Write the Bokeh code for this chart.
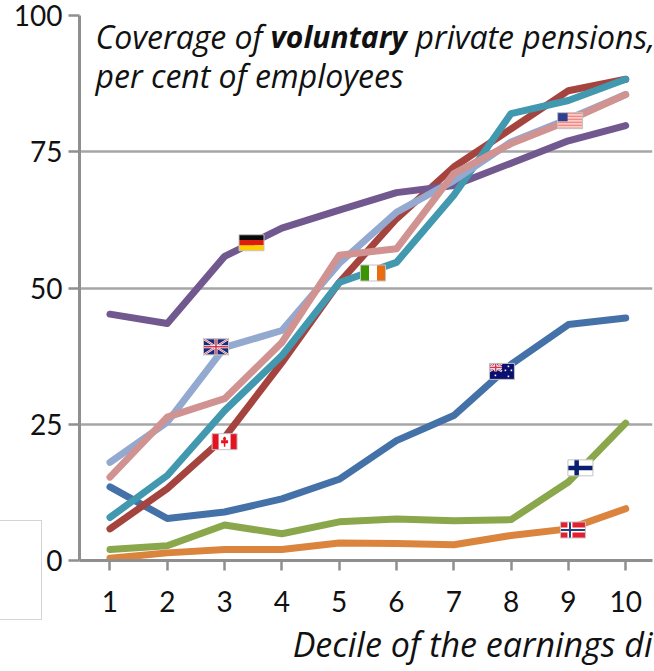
from bokeh.plotting import figure
from bokeh.models import Label, FixedTicker, Title
from bokeh.embed import file_html
from bokeh.resources import INLINE

deciles = [1, 2, 3, 4, 5, 6, 7, 8, 9, 10]
australia = [13.5, 7.7, 8.9, 11.3, 14.9, 22.0, 26.6, 36.0, 43.3, 44.5]
canada = [5.8, 13.2, 22.6, 36.3, 51.0, 62.7, 72.2, 79.2, 86.2, 88.3]
finland = [2.0, 2.7, 6.5, 4.9, 7.1, 7.6, 7.3, 7.5, 14.4, 25.2]
germany = [45.2, 43.5, 55.8, 61.0, 64.3, 67.5, 68.8, 72.9, 77.0, 79.8]
ireland = [7.9, 15.6, 27.5, 37.6, 51.0, 54.7, 67.0, 82.0, 84.4, 88.3]
norway = [0.4, 1.4, 2.0, 2.0, 3.2, 3.1, 2.9, 4.6, 5.8, 9.5]
uk = [18.0, 25.4, 39.1, 42.2, 54.5, 63.9, 69.7, 76.8, 81.0, 85.5]
usa = [15.3, 26.3, 29.7, 40.0, 56.0, 57.2, 71.0, 76.5, 80.7, 85.5]

series = [
    (australia, "#4472A8"), (canada, "#A5433F"), (finland, "#8AA84B"), (germany, "#71588F"),
    (ireland, "#4198AF"), (norway, "#DB843D"), (uk, "#93A9CF"), (usa, "#D19392"),
]
y_ticks = [0, 25, 50, 75, 100]

# flag anchor positions in chart units
flag_pos = {
    "de": (3.47, 58.3), "uk": (2.85, 39.2), "ca": (3.00, 21.8), "ie": (5.59, 52.75),
    "us": (9.03, 80.7), "au": (7.84, 34.7), "fi": (9.21, 17.0), "no": (9.08, 5.6),
}

W, H = 654, 671
LEFT, TOP, RIGHT = 79, 15, 652
ZERO = 560
p = figure(width=W, height=H, output_backend="svg", toolbar_location=None,
           x_range=(0.468, 10.468), y_range=(0, 100),
           min_border_left=LEFT, min_border_right=W - RIGHT, min_border_top=TOP, min_border_bottom=H - ZERO,
           background_fill_color="white", border_fill_color="white", outline_line_color=None)

# faint box from the source slide, lower-left corner
p.stylesheets = [":host::after{content:'';position:absolute;left:-5px;top:520px;width:45px;height:98px;"
                 "border:1px solid #D4D4D4;pointer-events:none}"]

p.xgrid.visible = False
p.ygrid.ticker = FixedTicker(ticks=y_ticks)
p.ygrid.grid_line_color = "#A6A6A6"
p.ygrid.grid_line_width = 2.5

ax = p.xaxis[0]
ax.ticker = FixedTicker(ticks=deciles)
ay = p.yaxis[0]
ay.ticker = FixedTicker(ticks=y_ticks)
for a in (ax, ay):
    a.axis_line_color = "#8F8F8F"
    a.axis_line_width = 3
    a.major_tick_line_color = "#8F8F8F"
    a.major_tick_line_width = 2.5
    a.major_tick_in = 0
    a.minor_tick_line_color = None
    a.major_label_text_font = "Lato"
    a.major_label_text_font_size = "28px"
    a.major_label_text_color = "#111111"
ax.major_tick_out = 10
ax.major_label_standoff = 20
ay.major_tick_out = 11
ay.major_label_standoff = 6

p.add_layout(Title(text="Decile of the earnings di", align="right", text_font="Open Sans",
                   text_font_style="italic", text_font_size="34px", text_color="#111111",
                   standoff=9, offset=0), "below")

for vals, col in series:
    p.line(deciles, vals, line_color=col, line_width=7, line_cap="round", line_join="round")

# flags: drawn from local pixel boxes around each anchor
PX = 10.0 / (RIGHT - LEFT)
PY = 100.0 / (ZERO - TOP)
FW, FH = 25, 16


def box(key, u0, v0, u1, v1, color):
    cx, cy = flag_pos[key]
    x0 = cx + (u0 - FW / 2) * PX
    x1 = cx + (u1 - FW / 2) * PX
    y1 = cy - (v0 - FH / 2) * PY
    y0 = cy - (v1 - FH / 2) * PY
    p.quad(left=[x0], right=[x1], bottom=[y0], top=[y1], fill_color=color, line_color=None)


def seg(key, u0, v0, u1, v1, color, w):
    cx, cy = flag_pos[key]
    p.line([cx + (u0 - FW / 2) * PX, cx + (u1 - FW / 2) * PX],
           [cy - (v0 - FH / 2) * PY, cy - (v1 - FH / 2) * PY], line_color=color, line_width=w)


def frame(key):
    cx, cy = flag_pos[key]
    p.quad(left=[cx - FW / 2 * PX], right=[cx + FW / 2 * PX], bottom=[cy - FH / 2 * PY], top=[cy + FH / 2 * PY],
           fill_color=None, line_color="#C4C4C4", line_width=1)


def union(key, u1, v1):
    box(key, 0, 0, u1, v1, "#1A2A78")
    seg(key, 0, 0, u1, v1, "white", 2.2)
    seg(key, 0, v1, u1, 0, "white", 2.2)
    seg(key, 0, 0, u1, v1, "#D8344A", 0.8)
    seg(key, 0, v1, u1, 0, "#D8344A", 0.8)
    seg(key, u1 / 2, 0, u1 / 2, v1, "white", 3)
    seg(key, 0, v1 / 2, u1, v1 / 2, "white", 3)
    seg(key, u1 / 2, 0, u1 / 2, v1, "#D8344A", 1.5)
    seg(key, 0, v1 / 2, u1, v1 / 2, "#D8344A", 1.5)


box("de", 0, 0, 25, 5.3, "#0A0A0A")
box("de", 0, 5.3, 25, 10.6, "#DD1C10")
box("de", 0, 10.6, 25, 16, "#FFCC00")
frame("de")

union("uk", 25, 16)
frame("uk")

box("ca", 0, 0, 25, 16, "white")
box("ca", 0, 0, 6.5, 16, "#E4131F")
box("ca", 18.5, 0, 25, 16, "#E4131F")
seg("ca", 12.5, 3, 12.5, 13, "#E4131F", 1.5)
seg("ca", 9, 8, 16, 8, "#E4131F", 3)
seg("ca", 11, 5, 14, 5, "#E4131F", 2)
frame("ca")

box("ie", 0, 0, 8.5, 16, "#3B9400")
box("ie", 8.5, 0, 16.5, 16, "white")
box("ie", 16.5, 0, 25, 16, "#EA6C10")
frame("ie")

box("us", 0, 0, 25, 16, "#F28A85")
for v in (1.5, 4.5, 7.5, 10.5, 13.5):
    box("us", 0, v, 25, v + 1.4, "#FBE4E2")
box("us", 0, 0, 10, 8.5, "#2E3F8F")
frame("us")

box("au", 0, 0, 25, 16, "#0A0F70")
union("au", 12.5, 8)
for u, v in ((6, 12), (19, 3), (22, 7), (16, 7), (19, 13)):
    box("au", u - 0.8, v - 0.8, u + 0.8, v + 0.8, "white")
frame("au")

box("fi", 0, 0, 25, 16, "white")
box("fi", 6.5, 0, 11, 16, "#0A1F70")
box("fi", 0, 6, 25, 10.5, "#0A1F70")
frame("fi")

box("no", 0, 0, 25, 16, "#E4202C")
box("no", 7, 0, 12, 16, "white")
box("no", 0, 5.5, 25, 10.5, "white")
box("no", 8.5, 0, 10.5, 16, "#23407F")
box("no", 0, 7, 25, 9, "#23407F")
frame("no")


def label(text, px, py, size, style="italic"):
    p.add_layout(Label(x=px - LEFT, y=ZERO - py, x_units="screen", y_units="screen", text=text,
                       text_font="Open Sans", text_font_size=size, text_font_style=style,
                       text_color="#111111", text_baseline="alphabetic", text_align="left"))


label("Coverage of", 95, 36, "32px")
label("voluntary", 270, 36, "30px", "bold italic")
label("private pensions,", 415, 36, "32px")
label("per cent of employees", 95, 75, "32px")

open("out.html", "w").write(file_html(p, INLINE))
